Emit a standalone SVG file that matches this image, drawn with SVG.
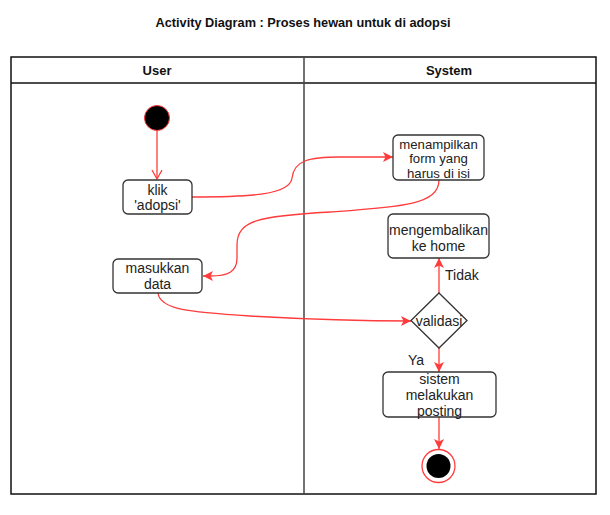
<svg xmlns="http://www.w3.org/2000/svg" width="610" height="515" viewBox="0 0 610 515">
<style>
.t{font-family:"Liberation Sans",Arial,sans-serif;font-size:14px;fill:#222;text-anchor:middle}
.s{font-size:13.2px}
.h{font-family:"Liberation Sans",Arial,sans-serif;font-size:13px;font-weight:bold;fill:#111;text-anchor:middle}
.box{fill:#fff;stroke:#333;stroke-width:1.3}
.e{fill:none;stroke:#ff3b3b;stroke-width:1.3}
</style>
<defs>
<marker id="a" markerUnits="userSpaceOnUse" markerWidth="12" markerHeight="10" refX="10" refY="5" orient="auto">
<path d="M0,0 L10,5 L0,10 L2.5,5 Z" fill="#ff3b3b"/>
</marker>
<marker id="o" markerUnits="userSpaceOnUse" markerWidth="12" markerHeight="12" refX="10" refY="6" orient="auto">
<path d="M1,1 L10,6 L1,11" fill="none" stroke="#ff3b3b" stroke-width="1.3"/>
</marker>
</defs>
<rect width="610" height="515" fill="#fff"/>
<text class="h" x="303" y="27" textLength="295" lengthAdjust="spacingAndGlyphs">Activity Diagram : Proses hewan untuk di adopsi</text>
<g id="lanes">
<rect x="11" y="57" width="585" height="437" fill="none" stroke="#111" stroke-width="1.5"/>
<line x1="11" y1="83" x2="596" y2="83" stroke="#111" stroke-width="1.5"/>
<line x1="304" y1="57" x2="304" y2="494" stroke="#444" stroke-width="1.5"/>
<text class="h" x="157" y="75">User</text>
<text class="h" x="449" y="75">System</text>
</g>
<g id="connectors">
<path class="e" d="M157,131 L157,179" marker-end="url(#o)"/>
<path class="e" d="M192,197 C250,197 290,195 292,178 C294,160 310,157 340,157 L393,157" marker-end="url(#a)"/>
<path class="e" d="M439,180 C439,205 400,207 330,212 C260,216 237,220 237,245 L237,258 C237,272 228,276 210,276 L203,276" marker-end="url(#a)"/>
<path class="e" d="M158,293 C160,310 190,312 250,316 C320,320 370,321 411,321" marker-end="url(#a)"/>
<path class="e" d="M439,293 L439,258" marker-end="url(#a)"/>
<path class="e" d="M439,348 L439,372" marker-end="url(#a)"/>
<path class="e" d="M439,417 L439,449" marker-end="url(#a)"/>
<text class="t" x="445" y="280" style="text-anchor:start">Tidak</text>
<text class="t" x="416" y="365">Ya</text>
</g>
<g id="start">
<circle cx="157" cy="118" r="12.5" fill="#000" stroke="#ff3b3b" stroke-width="1"/>
</g>
<g id="klik">
<rect class="box" x="123" y="180" width="69" height="34" rx="5"/>
<text class="t" x="157.5" y="195">klik</text>
<text class="t" x="157.5" y="210">'adopsi'</text>
</g>
<g id="masukkan">
<rect class="box" x="113" y="259" width="89" height="34" rx="5"/>
<text class="t" x="157.5" y="273">masukkan</text>
<text class="t" x="157.5" y="289">data</text>
</g>
<g id="menampilkan">
<rect class="box" x="393" y="135" width="91" height="45" rx="5"/>
<text class="t s" x="438.5" y="148.5">menampilkan</text>
<text class="t s" x="438.5" y="163.3">form yang</text>
<text class="t s" x="438.5" y="178">harus di isi</text>
</g>
<g id="mengembalikan">
<rect class="box" x="388" y="214" width="101" height="44" rx="5"/>
<text class="t" x="438.5" y="235">mengembalikan</text>
<text class="t" x="438.5" y="251">ke home</text>
</g>
<g id="validasi">
<path d="M439,293 L467,320.5 L439,348 L411,320.5 Z" fill="#fff" stroke="#333" stroke-width="1.3"/>
<text class="t" x="439" y="326">validasi</text>
</g>
<g id="sistem">
<rect class="box" x="383" y="372" width="113" height="45" rx="5"/>
<text class="t" x="439.5" y="384">sistem</text>
<text class="t" x="439.5" y="400">melakukan</text>
<text class="t" x="439.5" y="415.5">posting</text>
</g>
<g id="end">
<circle cx="438.5" cy="466" r="16.5" fill="#fff" stroke="#ff3b3b" stroke-width="1.3"/>
<circle cx="438.5" cy="466" r="12" fill="#000"/>
</g>
</svg>
